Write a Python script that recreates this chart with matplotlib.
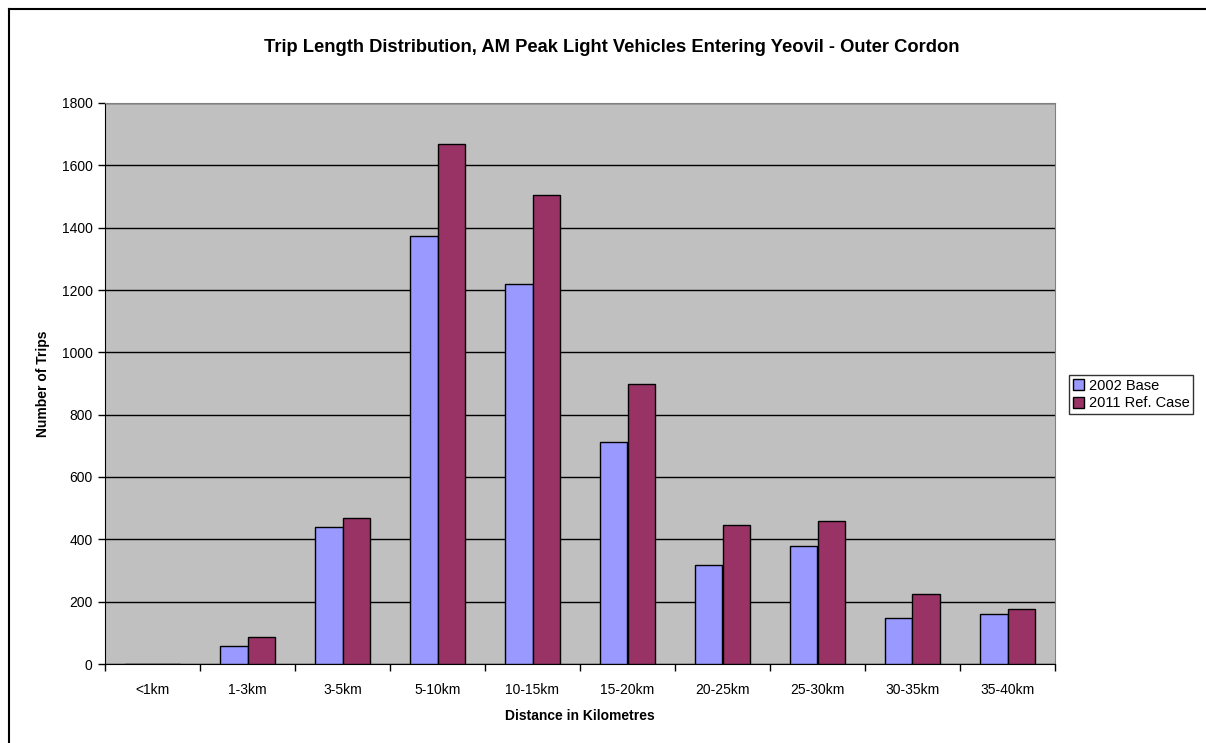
import matplotlib.pyplot as plt
import numpy as np
from matplotlib.patches import Patch
from matplotlib.lines import Line2D

plt.rcParams['font.family'] = ['Liberation Sans', 'DejaVu Sans']

# Trip counts per distance band
bands = ["<1km", "1-3km", "3-5km", "5-10km", "10-15km", "15-20km",
         "20-25km", "25-30km", "30-35km", "35-40km"]
base_2002 = [0, 59, 440, 1372, 1218, 711, 318, 378, 149, 161]
ref_2011 = [0, 86, 467, 1668, 1504, 898, 445, 458, 224, 177]

W, H = 1206, 743
fig = plt.figure(figsize=(W / 100, H / 100), dpi=100)
ax = fig.add_axes([105 / W, 1 - 664 / H, (1055 - 105) / W, (664 - 103) / H])

x = np.arange(len(bands))
bw = 1 / 3.5
ax.bar(x - bw / 2, base_2002, width=bw, color="#9999FF", edgecolor="black",
       linewidth=1, zorder=3)
ax.bar(x + bw / 2, ref_2011, width=bw, color="#993366", edgecolor="black",
       linewidth=1, zorder=3)

ax.set_facecolor("#C0C0C0")
ax.set_xlim(-0.5, len(bands) - 0.5)
ax.set_ylim(0, 1800)
ax.set_yticks(range(0, 1801, 200))
ax.yaxis.grid(True, color="black", linewidth=1, zorder=1)
ax.set_axisbelow(True)

ax.set_xticks(x)
ax.set_xticklabels(bands, fontsize=10)
ax.set_xticks(np.arange(-0.5, len(bands)), minor=True)
ax.tick_params(axis="x", which="major", length=0, pad=14)
ax.tick_params(axis="x", which="minor", length=5, width=1, direction="out")
ax.tick_params(axis="y", length=5, width=1, direction="out", labelsize=10, pad=4)

for side in ("top", "right"):
    ax.spines[side].set_color("#808080")
for side in ("left", "bottom"):
    ax.spines[side].set_color("black")

ax.set_xlabel("Distance in Kilometres", fontsize=10, fontweight="bold", labelpad=8)
ax.set_ylabel("Number of Trips", fontsize=10, fontweight="bold", labelpad=8)

fig.text(0.5 * (263 + 961) / W, 1 - 48 / H,
         "Trip Length Distribution, AM Peak Light Vehicles Entering Yeovil - Outer Cordon",
         ha="center", va="center", fontsize=13.2, fontweight="bold")

handles = [Patch(facecolor="#9999FF", edgecolor="black", label="2002 Base"),
           Patch(facecolor="#993366", edgecolor="black", label="2011 Ref. Case")]
leg = fig.legend(handles=handles, loc="upper left",
                 bbox_to_anchor=(1069 / W, 1 - 375 / H), fontsize=10.5,
                 frameon=True, fancybox=False, edgecolor="black",
                 handlelength=0.8, handleheight=0.8, handletextpad=0.3,
                 borderpad=0.25, labelspacing=0.25, borderaxespad=0)
leg.get_frame().set_linewidth(1)

# outer chart border (left and top edges)
fig.add_artist(Line2D([8.5 / W, 8.5 / W], [0, 1 - 8.5 / H], color="black",
                      linewidth=1.5, transform=fig.transFigure))
fig.add_artist(Line2D([8.5 / W, 1], [1 - 8.5 / H, 1 - 8.5 / H], color="black",
                      linewidth=1.5, transform=fig.transFigure))

fig.savefig("out.png", dpi=100)
